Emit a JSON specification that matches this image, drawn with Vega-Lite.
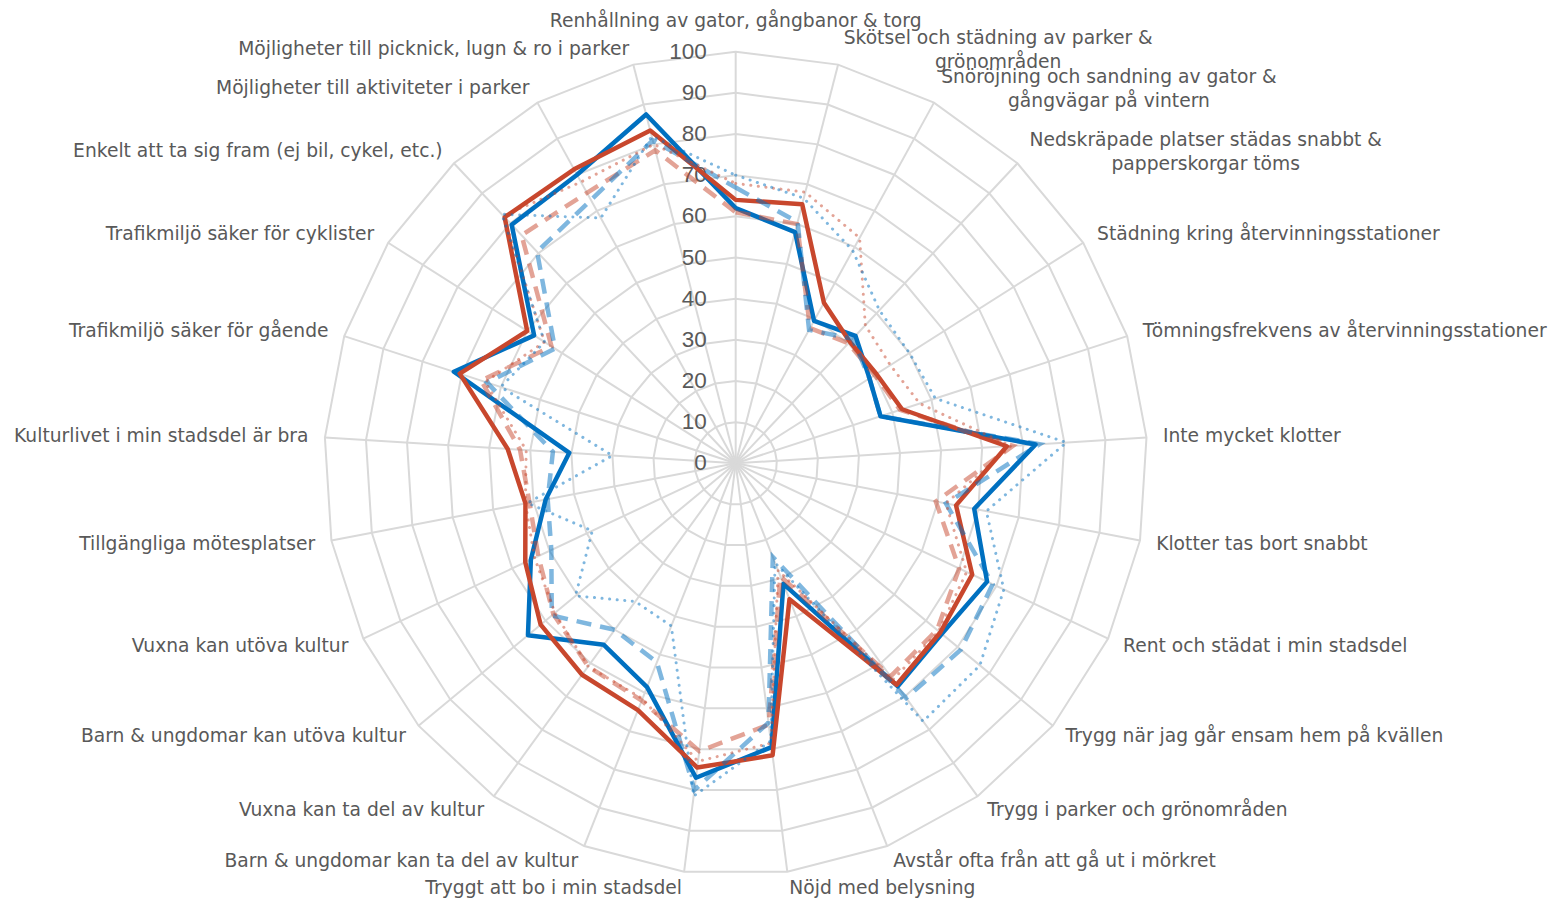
{
  "$schema": "https://vega.github.io/schema/vega-lite/v6.json",
  "width": 1560,
  "height": 902,
  "padding": 0,
  "autosize": {"type": "none"},
  "background": "white",
  "config": {"view": {"stroke": null}},
  "datasets": {
    "cats": [
      {"k": 0, "label": "Renhållning av gator, gångbanor & torg"},
      {"k": 1, "label": "Skötsel och städning av parker &\ngrönområden"},
      {"k": 2, "label": "Snöröjning och sandning av gator &\ngångvägar på vintern"},
      {"k": 3, "label": "Nedskräpade platser städas snabbt &\npapperskorgar töms"},
      {"k": 4, "label": "Städning kring återvinningsstationer"},
      {"k": 5, "label": "Tömningsfrekvens av återvinningsstationer"},
      {"k": 6, "label": "Inte mycket klotter"},
      {"k": 7, "label": "Klotter tas bort snabbt"},
      {"k": 8, "label": "Rent och städat i min stadsdel"},
      {"k": 9, "label": "Trygg när jag går ensam hem på kvällen"},
      {"k": 10, "label": "Trygg i parker och grönområden"},
      {"k": 11, "label": "Avstår ofta från att gå ut i mörkret"},
      {"k": 12, "label": "Nöjd med belysning"},
      {"k": 13, "label": "Tryggt att bo i min stadsdel"},
      {"k": 14, "label": "Barn & ungdomar kan ta del av kultur"},
      {"k": 15, "label": "Vuxna kan ta del av kultur"},
      {"k": 16, "label": "Barn & ungdomar kan utöva kultur"},
      {"k": 17, "label": "Vuxna kan utöva kultur"},
      {"k": 18, "label": "Tillgängliga mötesplatser"},
      {"k": 19, "label": "Kulturlivet i min stadsdel är bra"},
      {"k": 20, "label": "Trafikmiljö säker för gående"},
      {"k": 21, "label": "Trafikmiljö säker för cyklister"},
      {"k": 22, "label": "Enkelt att ta sig fram (ej bil, cykel, etc.)"},
      {"k": 23, "label": "Möjligheter till aktiviteter i parker"},
      {"k": 24, "label": "Möjligheter till picknick, lugn & ro i parker"}
    ],
    "grid": [
      {"ring": 10, "k": [0,1,2,3,4,5,6,7,8,9,10,11,12,13,14,15,16,17,18,19,20,21,22,23,24]},
      {"ring": 20, "k": [0,1,2,3,4,5,6,7,8,9,10,11,12,13,14,15,16,17,18,19,20,21,22,23,24]},
      {"ring": 30, "k": [0,1,2,3,4,5,6,7,8,9,10,11,12,13,14,15,16,17,18,19,20,21,22,23,24]},
      {"ring": 40, "k": [0,1,2,3,4,5,6,7,8,9,10,11,12,13,14,15,16,17,18,19,20,21,22,23,24]},
      {"ring": 50, "k": [0,1,2,3,4,5,6,7,8,9,10,11,12,13,14,15,16,17,18,19,20,21,22,23,24]},
      {"ring": 60, "k": [0,1,2,3,4,5,6,7,8,9,10,11,12,13,14,15,16,17,18,19,20,21,22,23,24]},
      {"ring": 70, "k": [0,1,2,3,4,5,6,7,8,9,10,11,12,13,14,15,16,17,18,19,20,21,22,23,24]},
      {"ring": 80, "k": [0,1,2,3,4,5,6,7,8,9,10,11,12,13,14,15,16,17,18,19,20,21,22,23,24]},
      {"ring": 90, "k": [0,1,2,3,4,5,6,7,8,9,10,11,12,13,14,15,16,17,18,19,20,21,22,23,24]},
      {"ring": 100, "k": [0,1,2,3,4,5,6,7,8,9,10,11,12,13,14,15,16,17,18,19,20,21,22,23,24]}
    ],
    "ticks": [
      {"t": 0}, {"t": 10}, {"t": 20}, {"t": 30}, {"t": 40}, {"t": 50},
      {"t": 60}, {"t": 70}, {"t": 80}, {"t": 90}, {"t": 100}
    ],
    "scores": [
      {"k":0,"s":"BS","v":62},{"k":0,"s":"RS","v":64},{"k":0,"s":"BD","v":67},{"k":0,"s":"RD","v":61},{"k":0,"s":"BT","v":70},{"k":0,"s":"RT","v":68},
      {"k":1,"s":"BS","v":58},{"k":1,"s":"RS","v":65},{"k":1,"s":"BD","v":60.5},{"k":1,"s":"RD","v":60},{"k":1,"s":"BT","v":66.5},{"k":1,"s":"RT","v":68},
      {"k":2,"s":"BS","v":39.5},{"k":2,"s":"RS","v":44.5},{"k":2,"s":"BD","v":37},{"k":2,"s":"RD","v":37.5},{"k":2,"s":"BT","v":59},{"k":2,"s":"RT","v":62.5},
      {"k":3,"s":"BS","v":42.5},{"k":3,"s":"RS","v":40.5},{"k":3,"s":"BD","v":41.5},{"k":3,"s":"RD","v":40},{"k":3,"s":"BT","v":51},{"k":3,"s":"RT","v":46},
      {"k":4,"s":"BS","v":38.5},{"k":4,"s":"RS","v":40.5},{"k":4,"s":"BD","v":38.5},{"k":4,"s":"RD","v":40},{"k":4,"s":"BT","v":50},{"k":4,"s":"RT","v":44.5},
      {"k":5,"s":"BS","v":37},{"k":5,"s":"RS","v":42.5},{"k":5,"s":"BD","v":37},{"k":5,"s":"RD","v":42},{"k":5,"s":"BT","v":51},{"k":5,"s":"RT","v":47},
      {"k":6,"s":"BS","v":73},{"k":6,"s":"RS","v":66},{"k":6,"s":"BD","v":74},{"k":6,"s":"RD","v":67.5},{"k":6,"s":"BT","v":80.5},{"k":6,"s":"RT","v":67},
      {"k":7,"s":"BS","v":59},{"k":7,"s":"RS","v":54.5},{"k":7,"s":"BD","v":52},{"k":7,"s":"RD","v":49.5},{"k":7,"s":"BT","v":62},{"k":7,"s":"RT","v":52},
      {"k":8,"s":"BS","v":67.5},{"k":8,"s":"RS","v":63.5},{"k":8,"s":"BD","v":69},{"k":8,"s":"RD","v":60},{"k":8,"s":"BT","v":72},{"k":8,"s":"RT","v":62},
      {"k":9,"s":"BS","v":65},{"k":9,"s":"RS","v":64.5},{"k":9,"s":"BD","v":71},{"k":9,"s":"RD","v":63.5},{"k":9,"s":"BT","v":77},{"k":9,"s":"RT","v":64},
      {"k":10,"s":"BS","v":67},{"k":10,"s":"RS","v":66.5},{"k":10,"s":"BD","v":70.5},{"k":10,"s":"RD","v":64},{"k":10,"s":"BT","v":77.5},{"k":10,"s":"RT","v":65},
      {"k":11,"s":"BS","v":31.5},{"k":11,"s":"RS","v":35.5},{"k":11,"s":"BD","v":24.5},{"k":11,"s":"RD","v":29.5},{"k":11,"s":"BT","v":26},{"k":11,"s":"RT","v":28},
      {"k":12,"s":"BS","v":69.5},{"k":12,"s":"RS","v":71.5},{"k":12,"s":"BD","v":63.5},{"k":12,"s":"RD","v":64},{"k":12,"s":"BT","v":68},{"k":12,"s":"RT","v":68.5},
      {"k":13,"s":"BS","v":77},{"k":13,"s":"RS","v":74.5},{"k":13,"s":"BD","v":80},{"k":13,"s":"RD","v":70.5},{"k":13,"s":"BT","v":81.5},{"k":13,"s":"RT","v":73},
      {"k":14,"s":"BS","v":58.5},{"k":14,"s":"RS","v":64.5},{"k":14,"s":"BD","v":52},{"k":14,"s":"RD","v":62},{"k":14,"s":"BT","v":42.5},{"k":14,"s":"RT","v":61.5},
      {"k":15,"s":"BS","v":54.5},{"k":15,"s":"RS","v":63.5},{"k":15,"s":"BD","v":50},{"k":15,"s":"RD","v":61},{"k":15,"s":"BT","v":41.5},{"k":15,"s":"RT","v":61},
      {"k":16,"s":"BS","v":65.5},{"k":16,"s":"RS","v":61.5},{"k":16,"s":"BD","v":58},{"k":16,"s":"RD","v":57.5},{"k":16,"s":"BT","v":50.5},{"k":16,"s":"RT","v":57},
      {"k":17,"s":"BS","v":55},{"k":17,"s":"RS","v":56.5},{"k":17,"s":"BD","v":49.5},{"k":17,"s":"RD","v":53},{"k":17,"s":"BT","v":38.5},{"k":17,"s":"RT","v":54},
      {"k":18,"s":"BS","v":47},{"k":18,"s":"RS","v":52},{"k":18,"s":"BD","v":46.5},{"k":18,"s":"RD","v":51},{"k":18,"s":"BT","v":51.5},{"k":18,"s":"RT","v":52},
      {"k":19,"s":"BS","v":40.5},{"k":19,"s":"RS","v":55.5},{"k":19,"s":"BD","v":44.5},{"k":19,"s":"RD","v":52.5},{"k":19,"s":"BT","v":30},{"k":19,"s":"RT","v":51},
      {"k":20,"s":"BS","v":72},{"k":20,"s":"RS","v":70.5},{"k":20,"s":"BD","v":63.5},{"k":20,"s":"RD","v":65},{"k":20,"s":"BT","v":60},{"k":20,"s":"RT","v":64},
      {"k":21,"s":"BS","v":58},{"k":21,"s":"RS","v":60},{"k":21,"s":"BD","v":52},{"k":21,"s":"RD","v":53},{"k":21,"s":"BT","v":55},{"k":21,"s":"RT","v":55},
      {"k":22,"s":"BS","v":79.5},{"k":22,"s":"RS","v":82},{"k":22,"s":"BD","v":70.5},{"k":22,"s":"RD","v":76},{"k":22,"s":"BT","v":83},{"k":22,"s":"RT","v":82.5},
      {"k":23,"s":"BS","v":80},{"k":23,"s":"RS","v":81.5},{"k":23,"s":"BD","v":73},{"k":23,"s":"RD","v":75},{"k":23,"s":"BT","v":68},{"k":23,"s":"RT","v":78},
      {"k":24,"s":"BS","v":87.5},{"k":24,"s":"RS","v":83.5},{"k":24,"s":"BD","v":81},{"k":24,"s":"RD","v":78.5},{"k":24,"s":"BT","v":82},{"k":24,"s":"RT","v":80}
    ]
  },
  "encoding": {
    "x": {"field": "px", "type": "quantitative", "scale": {"domain": [-178.74, 200.27], "nice": false, "zero": false}, "axis": null},
    "y": {"field": "py", "type": "quantitative", "scale": {"domain": [-106.58, 112.56], "nice": false, "zero": false}, "axis": null}
  },
  "layer": [
    {
      "data": {"name": "grid"},
      "transform": [
        {"flatten": ["k"]},
        {"calculate": "datum.k * 2 * PI / 25", "as": "theta"},
        {"calculate": "datum.ring * sin(datum.theta)", "as": "px"},
        {"calculate": "datum.ring * cos(datum.theta)", "as": "py"}
      ],
      "mark": {"type": "line", "interpolate": "linear-closed", "stroke": "#D9D9D9", "strokeWidth": 2},
      "encoding": {"detail": {"field": "ring"}, "order": {"field": "k", "type": "quantitative"}}
    },
    {
      "data": {"name": "cats"},
      "transform": [
        {"calculate": "datum.k * 2 * PI / 25", "as": "theta"},
        {"calculate": "100 * sin(datum.theta)", "as": "px"},
        {"calculate": "100 * cos(datum.theta)", "as": "py"}
      ],
      "mark": {"type": "rule", "stroke": "#D9D9D9", "strokeWidth": 2},
      "encoding": {"x2": {"datum": 0}, "y2": {"datum": 0}}
    },
    {
      "data": {"name": "ticks"},
      "transform": [
        {"calculate": "0", "as": "px"},
        {"calculate": "datum.t", "as": "py"}
      ],
      "mark": {"type": "text", "align": "right", "baseline": "middle", "dx": -29, "font": "Liberation Sans", "fontSize": 22.5, "fill": "#595959"},
      "encoding": {"text": {"field": "t"}}
    },
    {
      "data": {"name": "scores"},
      "transform": [
        {"filter": "datum.s == 'BS'"},
        {"calculate": "datum.k * 2 * PI / 25", "as": "theta"},
        {"calculate": "datum.v * sin(datum.theta)", "as": "px"},
        {"calculate": "datum.v * cos(datum.theta)", "as": "py"}
      ],
      "mark": {"type": "line", "interpolate": "linear-closed", "stroke": "#0070C0", "strokeWidth": 4.5, "strokeJoin": "round"},
      "encoding": {"order": {"field": "k", "type": "quantitative"}}
    },
    {
      "data": {"name": "scores"},
      "transform": [
        {"filter": "datum.s == 'RS'"},
        {"calculate": "datum.k * 2 * PI / 25", "as": "theta"},
        {"calculate": "datum.v * sin(datum.theta)", "as": "px"},
        {"calculate": "datum.v * cos(datum.theta)", "as": "py"}
      ],
      "mark": {"type": "line", "interpolate": "linear-closed", "stroke": "#C8472D", "strokeWidth": 4.5, "strokeJoin": "round"},
      "encoding": {"order": {"field": "k", "type": "quantitative"}}
    },
    {
      "data": {"name": "scores"},
      "transform": [
        {"filter": "datum.s == 'RD'"},
        {"calculate": "datum.k * 2 * PI / 25", "as": "theta"},
        {"calculate": "datum.v * sin(datum.theta)", "as": "px"},
        {"calculate": "datum.v * cos(datum.theta)", "as": "py"}
      ],
      "mark": {"type": "line", "interpolate": "linear-closed", "stroke": "#C8472D", "strokeOpacity": 0.5, "strokeWidth": 4.5, "strokeDash": [15, 9]},
      "encoding": {"order": {"field": "k", "type": "quantitative"}}
    },
    {
      "data": {"name": "scores"},
      "transform": [
        {"filter": "datum.s == 'BD'"},
        {"calculate": "datum.k * 2 * PI / 25", "as": "theta"},
        {"calculate": "datum.v * sin(datum.theta)", "as": "px"},
        {"calculate": "datum.v * cos(datum.theta)", "as": "py"}
      ],
      "mark": {"type": "line", "interpolate": "linear-closed", "stroke": "#0070C0", "strokeOpacity": 0.5, "strokeWidth": 4.5, "strokeDash": [15, 9]},
      "encoding": {"order": {"field": "k", "type": "quantitative"}}
    },
    {
      "data": {"name": "scores"},
      "transform": [
        {"filter": "datum.s == 'RT'"},
        {"calculate": "datum.k * 2 * PI / 25", "as": "theta"},
        {"calculate": "datum.v * sin(datum.theta)", "as": "px"},
        {"calculate": "datum.v * cos(datum.theta)", "as": "py"}
      ],
      "mark": {"type": "line", "interpolate": "linear-closed", "stroke": "#C8472D", "strokeOpacity": 0.5, "strokeWidth": 3, "strokeDash": [0.1, 7.5], "strokeCap": "round"},
      "encoding": {"order": {"field": "k", "type": "quantitative"}}
    },
    {
      "data": {"name": "scores"},
      "transform": [
        {"filter": "datum.s == 'BT'"},
        {"calculate": "datum.k * 2 * PI / 25", "as": "theta"},
        {"calculate": "datum.v * sin(datum.theta)", "as": "px"},
        {"calculate": "datum.v * cos(datum.theta)", "as": "py"}
      ],
      "mark": {"type": "line", "interpolate": "linear-closed", "stroke": "#0070C0", "strokeOpacity": 0.5, "strokeWidth": 3, "strokeDash": [0.1, 7.5], "strokeCap": "round"},
      "encoding": {"order": {"field": "k", "type": "quantitative"}}
    },
    {
      "data": {"name": "cats"},
      "transform": [
        {"filter": "datum.k == 0"},
        {"calculate": "datum.k * 2 * PI / 25", "as": "theta"},
        {"calculate": "107.5 * sin(datum.theta)", "as": "px"},
        {"calculate": "107.5 * cos(datum.theta)", "as": "py"}
      ],
      "mark": {"type": "text", "align": "center", "baseline": "middle", "font": "DejaVu Sans", "fontSize": 18.7, "fill": "#595959"},
      "encoding": {"text": {"field": "label"}}
    },
    {
      "data": {"name": "cats"},
      "transform": [
        {"filter": "datum.k >= 4 && datum.k <= 12"},
        {"calculate": "datum.k * 2 * PI / 25", "as": "theta"},
        {"calculate": "104 * sin(datum.theta)", "as": "px"},
        {"calculate": "104 * cos(datum.theta)", "as": "py"}
      ],
      "mark": {"type": "text", "align": "left", "baseline": "middle", "font": "DejaVu Sans", "fontSize": 18.7, "fill": "#595959"},
      "encoding": {"text": {"field": "label"}}
    },
    {
      "data": {"name": "cats"},
      "transform": [
        {"filter": "datum.k >= 13"},
        {"calculate": "datum.k * 2 * PI / 25", "as": "theta"},
        {"calculate": "104 * sin(datum.theta)", "as": "px"},
        {"calculate": "104 * cos(datum.theta)", "as": "py"}
      ],
      "mark": {"type": "text", "align": "right", "baseline": "middle", "font": "DejaVu Sans", "fontSize": 18.7, "fill": "#595959"},
      "encoding": {"text": {"field": "label"}}
    },
    {
      "data": {"name": "cats"},
      "transform": [
        {"filter": "datum.k == 1"},
        {"calculate": "datum.k * 2 * PI / 25", "as": "theta"},
        {"calculate": "104 * sin(datum.theta)", "as": "px"},
        {"calculate": "104 * cos(datum.theta)", "as": "py"}
      ],
      "mark": {"type": "text", "align": "center", "baseline": "middle", "dx": 156, "dy": -11, "lineBreak": "\n", "lineHeight": 24, "font": "DejaVu Sans", "fontSize": 18.7, "fill": "#595959"},
      "encoding": {"text": {"field": "label"}}
    },
    {
      "data": {"name": "cats"},
      "transform": [
        {"filter": "datum.k == 2"},
        {"calculate": "datum.k * 2 * PI / 25", "as": "theta"},
        {"calculate": "104 * sin(datum.theta)", "as": "px"},
        {"calculate": "104 * cos(datum.theta)", "as": "py"}
      ],
      "mark": {"type": "text", "align": "center", "baseline": "middle", "dx": 167, "dy": -11, "lineBreak": "\n", "lineHeight": 24, "font": "DejaVu Sans", "fontSize": 18.7, "fill": "#595959"},
      "encoding": {"text": {"field": "label"}}
    },
    {
      "data": {"name": "cats"},
      "transform": [
        {"filter": "datum.k == 3"},
        {"calculate": "datum.k * 2 * PI / 25", "as": "theta"},
        {"calculate": "104 * sin(datum.theta)", "as": "px"},
        {"calculate": "104 * cos(datum.theta)", "as": "py"}
      ],
      "mark": {"type": "text", "align": "center", "baseline": "middle", "dx": 177, "dy": -11, "lineBreak": "\n", "lineHeight": 24, "font": "DejaVu Sans", "fontSize": 18.7, "fill": "#595959"},
      "encoding": {"text": {"field": "label"}}
    }
  ]
}
